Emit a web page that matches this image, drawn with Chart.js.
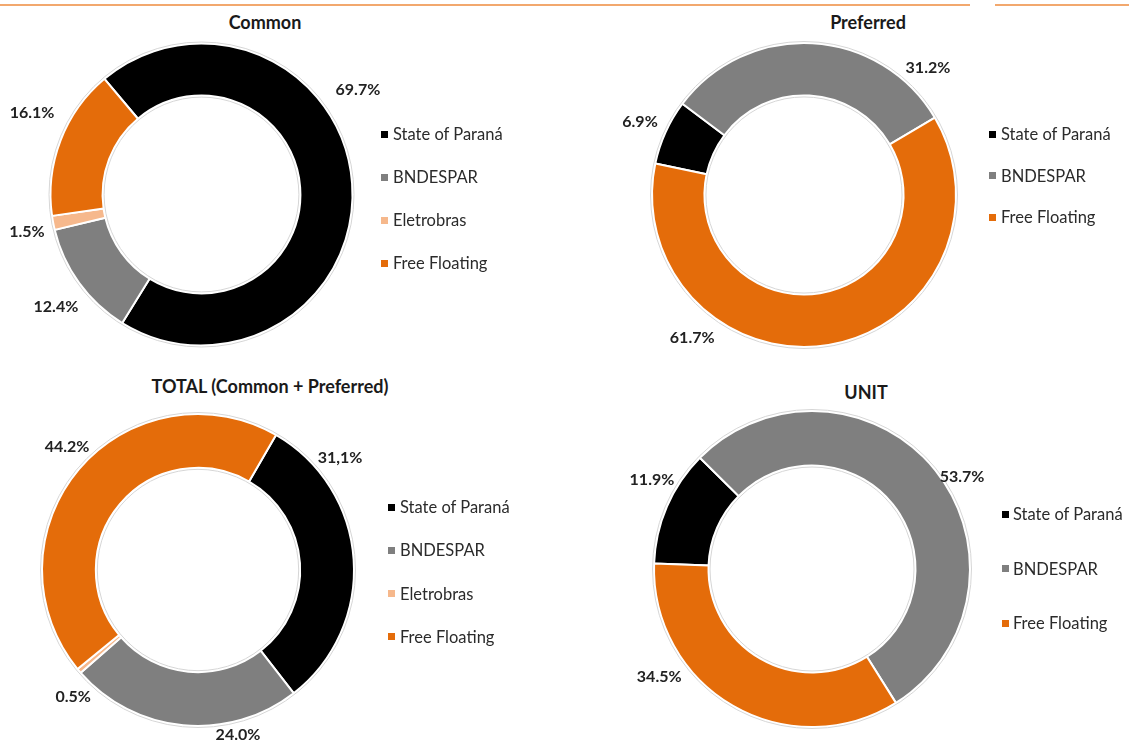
<!DOCTYPE html>
<html>
<head>
    <title>Shareholder Structure</title>
    <script src="https://cdn.jsdelivr.net/npm/chart.js"></script>
    <style>
        body { margin: 0; background: #fff; font-family: Lato, sans-serif; }
        #page { position: relative; width: 1129px; height: 742px; overflow: hidden; }
        canvas { position: absolute; }
        .rule { position: absolute; top: 4px; height: 2px; background: #f2a86e; }
        .title { position: absolute; width: 400px; margin-left: -200px; text-align: center;
                 font-weight: bold; font-size: 18px; color: #1a1a1a; line-height: 20px; }
        .item { position: absolute; height: 20px; line-height: 20px; font-size: 16.5px; color: #2b2b2b; white-space: nowrap; }
        .box { position: absolute; width: 7px; height: 7px; }
    </style>
</head>
<body>
<div id="page">
    <div class="rule" style="left:0; width:970px"></div>
    <div class="rule" style="left:995px; width:134px"></div>
    <div class="title" style="left:265px; top:12px">Common</div>
    <div class="title" style="left:868px; top:12px">Preferred</div>
    <div class="title" style="left:270px; top:376px">TOTAL (Common + Preferred)</div>
    <div class="title" style="left:866px; top:382px">UNIT</div>
    <canvas id="common" width="560" height="340" style="left:0; top:30px"></canvas>
    <canvas id="preferred" width="564" height="340" style="left:565px; top:30px"></canvas>
    <canvas id="total" width="560" height="342" style="left:0; top:400px"></canvas>
    <canvas id="unit" width="564" height="342" style="left:565px; top:400px"></canvas>
</div>
<script>
    // data
    var fourHolders = ['State of Paraná', 'BNDESPAR', 'Eletrobras', 'Free Floating'];
    var threeHolders = ['State of Paraná', 'BNDESPAR', 'Free Floating'];

    var commonValues = [69.7, 12.4, 1.5, 16.1];
    var commonText = ['69.7%', '12.4%', '1.5%', '16.1%'];

    var preferredValues = [6.9, 31.2, 61.7];
    var preferredText = ['6.9%', '31.2%', '61.7%'];

    var totalValues = [31.1, 24.0, 0.5, 44.2];
    var totalText = ['31,1%', '24.0%', '0.5%', '44.2%'];

    var unitValues = [11.9, 53.7, 34.5];
    var unitText = ['11.9%', '53.7%', '34.5%'];

    var colors4 = ['#000000', '#7f7f7f', '#f6b88c', '#e46c0a'];
    var colors3 = ['#000000', '#7f7f7f', '#e46c0a'];

    // draws the percentage labels outside the ring + faint outline of the ring
    var outsideLabels = {
        id: 'outsideLabels',
        afterDatasetsDraw: function(chart, args, opts) {
            var arcs = chart.getDatasetMeta(0).data;
            var ctx = chart.ctx;
            var a0 = arcs[0];
            ctx.save();
            ctx.strokeStyle = '#d6d6d6';
            ctx.lineWidth = 1;
            ctx.beginPath();
            ctx.arc(a0.x, a0.y, a0.outerRadius + 1.5, 0, Math.PI * 2);
            ctx.stroke();
            ctx.beginPath();
            ctx.arc(a0.x, a0.y, a0.innerRadius - 1.5, 0, Math.PI * 2);
            ctx.stroke();

            ctx.font = 'bold 16px Lato';
            ctx.fillStyle = '#222222';
            ctx.textAlign = 'center';
            ctx.textBaseline = 'middle';
            arcs.forEach(function(arc, i) {
                var deg = opts.spots[i][0], gap = opts.spots[i][1];
                var a = (deg - 90) * Math.PI / 180;
                var d = arc.outerRadius + gap;
                ctx.fillText(opts.texts[i], arc.x + Math.cos(a) * d, arc.y + Math.sin(a) * d);
            });
            ctx.restore();
        }
    };

    function makeDonut(id, labels, values, colors, texts, spots, rotation, cx, cy, r) {
        var canvas = document.getElementById(id);
        var left = parseFloat(canvas.style.left), top = parseFloat(canvas.style.top);
        var lx = cx - left, ly = cy - top, R = r + 1; // +1 = half of border
        var chart = new Chart(canvas.getContext('2d'), {
            type: 'doughnut',
            data: {
                labels: labels,
                datasets: [{
                    data: values,
                    backgroundColor: colors,
                    borderColor: '#ffffff',
                    borderWidth: 2,
                    hoverOffset: 0,
                    offset: 0
                }]
            },
            options: {
                responsive: false,
                animation: false,
                events: [],
                cutout: '65.5%',
                rotation: rotation,
                layout: {
                    padding: {
                        left: lx - R,
                        top: ly - R,
                        right: canvas.width - lx - R,
                        bottom: canvas.height - ly - R
                    }
                },
                plugins: {
                    legend: { display: false },
                    title: { display: false },
                    tooltip: { enabled: false },
                    outsideLabels: { texts: texts, spots: spots }
                }
            },
            plugins: [outsideLabels]
        });
        return chart;
    }

    // html legend built from the chart's own labels and colours
    function legend(chart, boxX, textX, y0, step) {
        var page = document.getElementById('page');
        var ds = chart.data.datasets[0];
        chart.data.labels.forEach(function(lbl, i) {
            var y = y0 + i * step;
            var b = document.createElement('div');
            b.className = 'box';
            b.style.left = boxX + 'px';
            b.style.top = (y - 3.5) + 'px';
            b.style.background = ds.backgroundColor[i];
            page.appendChild(b);
            var t = document.createElement('div');
            t.className = 'item';
            t.style.left = textX + 'px';
            t.style.top = (y - 10) + 'px';
            t.textContent = lbl;
            page.appendChild(t);
        });
    }

    var common = makeDonut('common', fourHolders, commonValues, colors4, commonText,
        [[56.3, 37], [232.3, 33], [257.9, 27.5], [295.7, 37]], -40, 201.5, 194.5, 151);
    var preferred = makeDonut('preferred', threeHolders, preferredValues, colors3, preferredText,
        [[294, 27.5], [44.3, 25.5], [218, 29.6]], -78, 804, 195, 152);
    var total = makeDonut('total', fourHolders, totalValues, colors4, totalText,
        [[51.7, 25], [166.4, 14], [224.5, 22], [313.2, 23.7]], 30, 198, 570, 156);
    var unit = makeDonut('unit', threeHolders, unitValues, colors3, unitText,
        [[299, 25], [58.5, 18], [234.8, 29]], -88, 812, 569, 158);

    legend(common, 381, 393, 134, 43);
    legend(preferred, 989, 1001, 134, 41.5);
    legend(total, 388, 400, 507, 43.3);
    legend(unit, 1002, 1013, 514, 54.5);
</script>
</body>
</html>
